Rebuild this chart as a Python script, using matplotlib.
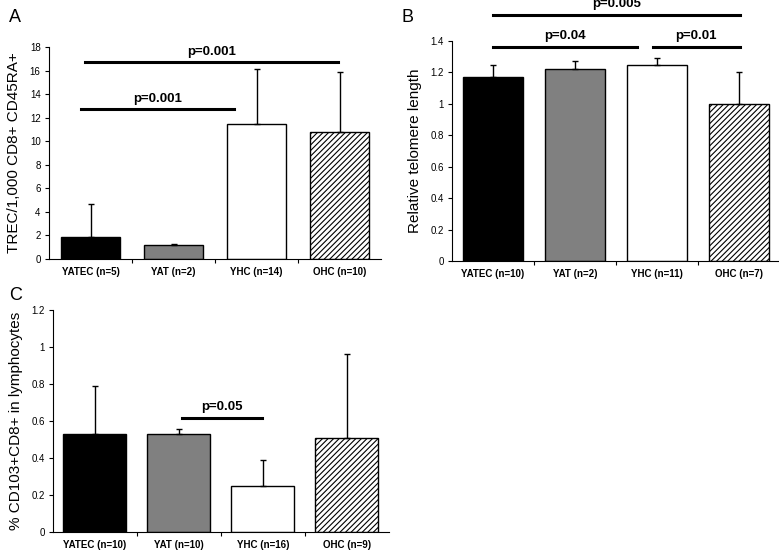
import matplotlib
matplotlib.use("Agg")
import matplotlib.pyplot as plt
from matplotlib.ticker import FuncFormatter, FixedLocator

plt.rcParams['font.family'] = ['Liberation Sans', 'DejaVu Sans']
plt.rcParams['hatch.linewidth'] = 0.8

# ---- data ----
cats_a = ["YATEC (n=5)", "YAT (n=2)", "YHC (n=14)", "OHC (n=10)"]
vals_a = [1.9, 1.2, 11.5, 10.8]
err_a = [2.75, 0.1, 4.6, 5.1]

cats_b = ["YATEC (n=10)", "YAT (n=2)", "YHC (n=11)", "OHC (n=7)"]
vals_b = [1.17, 1.22, 1.25, 1.0]
err_b = [0.075, 0.055, 0.045, 0.2]

cats_c = ["YATEC (n=10)", "YAT (n=10)", "YHC (n=16)", "OHC (n=9)"]
vals_c = [0.53, 0.53, 0.25, 0.51]
err_c = [0.26, 0.025, 0.14, 0.45]

# significance brackets: (x_start, x_end, y, label)
sig_a = [(-0.07, 2.98, 16.7, "p=0.001"), (-0.11, 1.73, 12.7, "p=0.001")]
sig_b = [(0.0, 3.01, 1.566, "p=0.005"), (0.0, 1.76, 1.362, "p=0.04"), (1.95, 3.01, 1.362, "p=0.01")]
sig_c = [(1.04, 1.99, 0.616, "p=0.05")]

colors = ["black", "#808080", "white", "white"]
hatches = [None, None, None, "//////"]

fig = plt.figure(figsize=(7.79, 5.53), dpi=100)

def panel(rect, cats, vals, errs, ylim, step, ylabel, sigs, letter, letter_xy, width, sig_off):
    ax = fig.add_axes(rect)
    x = list(range(len(cats)))
    for i in x:
        ax.bar(i, vals[i], width=width, color=colors[i], edgecolor="black",
               linewidth=1.0, hatch=hatches[i], zorder=2)
    ax.errorbar(x, vals, yerr=[[0] * len(errs), errs], fmt="none", ecolor="black",
                elinewidth=1.0, capsize=2.5, capthick=1.0, zorder=3)
    ax.set_xlim(-0.5, len(cats) - 0.5)
    ax.set_ylim(*ylim)
    n = int(round((ylim[1] - ylim[0]) / step))
    ax.yaxis.set_major_locator(FixedLocator([ylim[0] + k * step for k in range(n + 1)]))
    ax.yaxis.set_major_formatter(FuncFormatter(lambda v, p: f"{round(v, 2):g}"))
    ax.set_xticks(x)
    ax.set_xticklabels(cats, fontsize=7, fontweight="bold")
    ax.xaxis.set_minor_locator(FixedLocator([0.5, 1.5, 2.5]))
    ax.tick_params(axis="x", which="major", length=0, pad=6)
    ax.tick_params(axis="x", which="minor", length=3, direction="out", width=0.8)
    ax.tick_params(axis="y", length=3, direction="out", width=0.8, labelsize=7, pad=3)
    for s in ["top", "right"]:
        ax.spines[s].set_visible(False)
    for s in ["left", "bottom"]:
        ax.spines[s].set_linewidth(0.8)
    ax.set_ylabel(ylabel, fontsize=11, labelpad=6)
    for x0, x1, y, lab in sigs:
        ax.plot([x0, x1], [y, y], color="black", linewidth=2.2, clip_on=False, zorder=4)
        ax.text((x0 + x1) / 2, y + sig_off, lab, ha="center", va="bottom",
                fontsize=9.5, fontweight="bold", clip_on=False)
    fig.text(letter_xy[0], letter_xy[1], letter, fontsize=13, ha="left", va="center")
    return ax

panel([0.0629, 0.5316, 0.4262, 0.3834], cats_a, vals_a, err_a, (0, 18), 2,
      "TREC/1,000 CD8+ CD45RA+", sig_a, "A", (0.012, 0.968), 0.72, 0.35)
panel([0.5802, 0.5280, 0.4211, 0.3978], cats_b, vals_b, err_b, (0, 1.4), 0.2,
      "Relative telomere length", sig_b, "B", (0.516, 0.968), 0.72, 0.03)
panel([0.0680, 0.0380, 0.4310, 0.4014], cats_c, vals_c, err_c, (0, 1.2), 0.2,
      "% CD103+CD8+ in lymphocytes", sig_c, "C", (0.012, 0.466), 0.75, 0.025)

fig.savefig("out.png", dpi=100)
